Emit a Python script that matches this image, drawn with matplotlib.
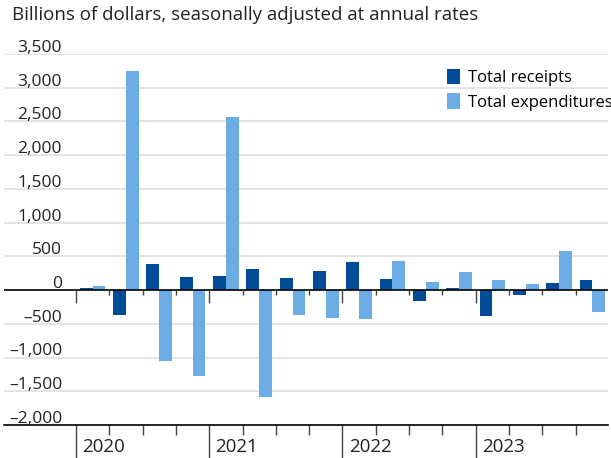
import matplotlib.pyplot as plt
import numpy as np

# Quarterly changes, billions of dollars (SAAR), 2020 Q1 - 2023 Q4
quarters = ['2020Q1', '2020Q2', '2020Q3', '2020Q4',
            '2021Q1', '2021Q2', '2021Q3', '2021Q4',
            '2022Q1', '2022Q2', '2022Q3', '2022Q4',
            '2023Q1', '2023Q2', '2023Q3', '2023Q4']
years = ['2020', '2021', '2022', '2023']
receipts = [30, -375, 390, 195, 210, 315, 180, 285,
            420, 165, -160, 25, -390, -70, 105, 150]
expenditures = [60, 3255, -1055, -1275, 2565, -1590, -370, -415,
                -430, 435, 120, 270, 150, 90, 585, -327]
ytick_vals = [-2000, -1500, -1000, -500, 0, 500, 1000, 1500, 2000, 2500, 3000, 3500]

dark = '#004c97'
light = '#6cace4'
plt.rcParams['font.family'] = ['Open Sans', 'DejaVu Sans']

W, H = 611, 458
fig = plt.figure(figsize=(W / 100, H / 100), dpi=100)
ax = fig.add_axes([4 / W, 33 / H, 604 / W, 371 / H])

x = np.arange(len(quarters))
bw = 0.385
ax.bar(x - bw / 2, receipts, bw, color=dark, label='Total receipts', zorder=3)
ax.bar(x + bw / 2, expenditures, bw, color=light, label='Total expenditures', zorder=3)

ax.set_xlim(-2.66, 15.47)
ax.set_ylim(-2000, 3500)

# gridlines + labels sitting above them
for v in ytick_vals:
    if v not in (0, -2000):
        ax.axhline(v, color='#dddddd', lw=1.1, zorder=1)
    lab = f'{abs(v):,}'
    if v < 0:
        lab = '\u2013' + lab
    ax.annotate(lab, xy=(58 / 604, v), xycoords=('axes fraction', 'data'),
                xytext=(0, 1.5), textcoords='offset points',
                ha='right', va='baseline', fontsize=12.5, color='#222222')

ax.axhline(0, color='black', lw=1.2, zorder=4)

# quarter ticks hanging off the zero line
px = 5500 / 371  # data units per pixel
bounds = np.arange(-0.5, 15, 1.0)
for b in bounds:
    L = 13 if (b + 0.5) % 4 == 0 else 5
    ax.vlines(b, -L * px, 0, color='#444444', lw=1, zorder=4)

# bottom axis
for s in ['top', 'right', 'left']:
    ax.spines[s].set_visible(False)
ax.spines['bottom'].set_color('black')
ax.spines['bottom'].set_linewidth(1.2)
ax.set_yticks([])
year_bounds = bounds[::4]
ax.set_xticks(year_bounds)
ax.set_xticklabels([])
ax.set_xticks([b for b in bounds if b not in year_bounds], minor=True)
ax.tick_params(axis='x', which='major', length=25, width=1, color='#444444')
ax.tick_params(axis='x', which='minor', length=7, width=1, color='#444444')
for b, yr in zip(year_bounds, years):
    ax.annotate(yr, xy=(b, -2000), xytext=(4.5, -16), textcoords='offset points',
                ha='left', va='center', fontsize=13.5, color='#222222')

fig.text(12 / W, 1 - 15 / H, 'Billions of dollars, seasonally adjusted at annual rates',
         ha='left', va='center', fontsize=13.5, color='#222222')

ax.legend(loc='upper left', bbox_to_anchor=(447 / W, 1 - 69 / H),
          bbox_transform=fig.transFigure, frameon=False, fontsize=12,
          handlelength=0.78, handleheight=1.05, handletextpad=0.45,
          labelspacing=0.42, borderpad=0, borderaxespad=0)

fig.savefig('out.png', dpi=100)
